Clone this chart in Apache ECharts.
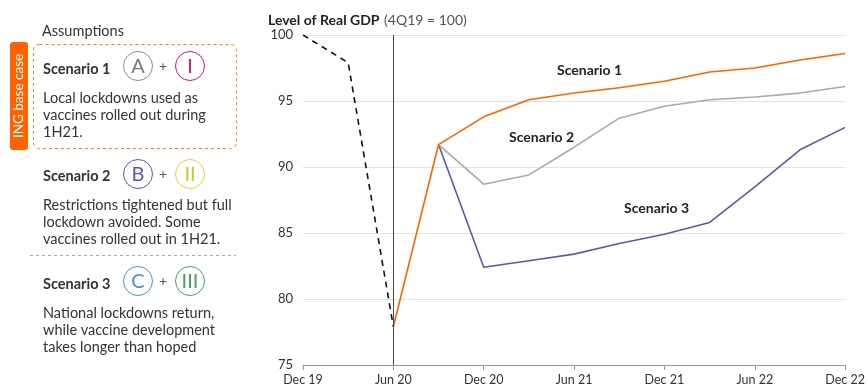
<!DOCTYPE html>
<html>
<head>
<meta charset="utf-8">
<script src="https://cdn.jsdelivr.net/npm/echarts@6/dist/echarts.min.js"></script>
<style>
  html, body { margin: 0; padding: 0; background: #fff; }
  #chart { width: 868px; height: 388px; }
</style>
</head>
<body>
<div id="chart"></div>
<script>
// quarterly points, Dec 19 .. Dec 22
const quarters = ['Dec 19', 'Mar 20', 'Jun 20', 'Sep 20', 'Dec 20', 'Mar 21', 'Jun 21',
  'Sep 21', 'Dec 21', 'Mar 22', 'Jun 22', 'Sep 22', 'Dec 22']
const history = [100, 97.9, 77.9, null, null, null, null, null, null, null, null, null, null]
const scenario1 = [null, null, 77.9, 91.7, 93.8, 95.1, 95.6, 96.0, 96.5, 97.2, 97.5, 98.1, 98.6]
const scenario2 = [null, null, null, 91.7, 88.7, 89.4, 91.5, 93.7, 94.6, 95.1, 95.3, 95.6, 96.1]
const scenario3 = [null, null, null, 91.7, 82.4, 82.9, 83.4, 84.2, 84.9, 85.8, 88.5, 91.3, 93.0]
const yTicks = [75, 80, 85, 90, 95, 100]
const seriesNames = ['Scenario 1', 'Scenario 2', 'Scenario 3']

const FONT = 'Lato'
const TEXT = '#333'
const BODY = '14.5px '

const chart = echarts.init(document.getElementById('chart'))

// little circled letters for the left panel
function circle(cx, cy, letter, color, textColor) {
  return [
    { type: 'circle', shape: { cx: cx, cy: cy, r: 14.5 }, style: { fill: '#fff', stroke: color, lineWidth: 1 } },
    { type: 'text', x: cx, y: cy + 1, style: { text: letter, fill: textColor || color, font: '20px ' + FONT, align: 'center', verticalAlign: 'middle' } }
  ]
}
function txt(x, y, s, bold) {
  return { type: 'text', x: x, y: y, style: { text: s, fill: TEXT, font: (bold ? 'bold ' : '') + BODY + FONT, verticalAlign: 'middle' } }
}
function plus(x, y) {
  return { type: 'text', x: x, y: y, style: { text: '+', fill: '#555', font: '14px ' + FONT, align: 'center', verticalAlign: 'middle' } }
}

const graphics = [
  txt(42, 31, 'Assumptions'),
  { type: 'rect', shape: { x: 33.5, y: 44.5, width: 203, height: 104, r: 6 }, style: { fill: 'none', stroke: '#ff7a2e', lineWidth: 1, lineDash: [3, 3] } },
  { type: 'rect', shape: { x: 10, y: 42, width: 18, height: 108, r: 3 }, style: { fill: '#ff6200' } },
  { type: 'text', x: 19, y: 96, rotation: Math.PI / 2, style: { text: 'ING base case', fill: '#fff', font: '13.5px ' + FONT, align: 'center', verticalAlign: 'middle' } },
  txt(43, 69, 'Scenario 1', true),
  ...circle(138, 66, 'A', '#8c8c8c', '#777'),
  plus(163, 66),
  ...circle(190, 66, 'I', '#c7187d'),
  txt(43, 98, 'Local lockdowns used as'),
  txt(43, 115, 'vaccines rolled out during'),
  txt(43, 132, '1H21.'),
  txt(43, 176, 'Scenario 2', true),
  ...circle(138, 174, 'B', '#5b58a8'),
  plus(163, 174),
  ...circle(190, 174, 'II', '#d4d843', '#c6cb2e'),
  txt(43, 205, 'Restrictions tightened but full'),
  txt(43, 222, 'lockdown avoided. Some'),
  txt(43, 239, 'vaccines rolled out in 1H21.'),
  { type: 'line', shape: { x1: 30, y1: 255.5, x2: 236, y2: 255.5 }, style: { stroke: '#aaa', lineWidth: 1, lineDash: [3, 3] } },
  txt(43, 284, 'Scenario 3', true),
  ...circle(138, 281, 'C', '#4a8fd6'),
  plus(163, 281),
  ...circle(190, 281, 'III', '#3ba55c'),
  txt(43, 313, 'National lockdowns return,'),
  txt(43, 330, 'while vaccine development'),
  txt(43, 347, 'takes longer than hoped'),
  // line labels
  { type: 'text', x: 557, y: 70, style: { text: seriesNames[0], fill: '#222', font: 'bold 14px ' + FONT, verticalAlign: 'middle' } },
  { type: 'text', x: 509, y: 137, style: { text: seriesNames[1], fill: '#222', font: 'bold 14px ' + FONT, verticalAlign: 'middle' } },
  { type: 'text', x: 624, y: 208, style: { text: seriesNames[2], fill: '#222', font: 'bold 14px ' + FONT, verticalAlign: 'middle' } }
]

function line(name, data, color, extra) {
  return Object.assign({
    name: name,
    type: 'line',
    data: data,
    symbol: 'none',
    silent: true,
    connectNulls: false,
    lineStyle: { color: color, width: 1.6 },
    animation: false
  }, extra || {})
}

chart.setOption({
  animation: false,
  textStyle: { fontFamily: FONT },
  title: {
    left: 263,
    top: 6,
    text: '{b|Level of Real GDP} {n|(4Q19 = 100)}',
    textStyle: {
      fontWeight: 'normal',
      rich: {
        b: { fontWeight: 'bold', fontSize: 14, color: '#222', fontFamily: FONT },
        n: { fontWeight: 'normal', fontSize: 14, color: '#555', fontFamily: FONT }
      }
    }
  },
  grid: { left: 303, right: 18, top: 35, bottom: 23 },
  xAxis: {
    type: 'category',
    data: quarters,
    boundaryGap: false,
    axisLine: { lineStyle: { color: '#999' } },
    axisTick: { interval: 1, length: 5, lineStyle: { color: '#999' } },
    axisLabel: { interval: 1, color: TEXT, fontSize: 12.5, margin: 8 },
    splitLine: { show: false }
  },
  yAxis: {
    type: 'value',
    min: yTicks[0],
    max: yTicks[yTicks.length - 1],
    interval: 5,
    axisLine: { show: false },
    axisTick: { show: false },
    axisLabel: { color: TEXT, fontSize: 13, margin: 10 },
    splitLine: { lineStyle: { color: '#e3e3e3' } }
  },
  series: [
    line('Scenario 3', scenario3, '#5b58a8'),
    line('Scenario 2', scenario2, '#a9a9a9'),
    line('Scenario 1', scenario1, '#ff6200', {
      markLine: {
        silent: true,
        symbol: 'none',
        label: { show: false },
        lineStyle: { color: '#444', width: 1, type: 'solid' },
        data: [{ xAxis: 'Jun 20' }]
      }
    }),
    line('History', history, '#111', { lineStyle: { color: '#111', width: 1.6, type: [6, 5] } })
  ],
  graphic: graphics
})
</script>
</body>
</html>
